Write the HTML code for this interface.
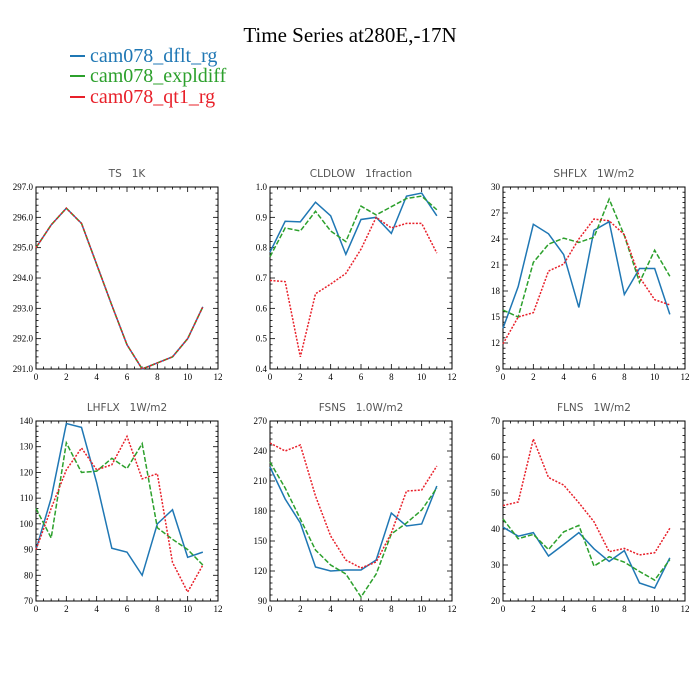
<!DOCTYPE html>
<html><head><meta charset="utf-8"><style>
body{margin:0;background:#fff;width:700px;height:700px;overflow:hidden}
svg{display:block}
text{white-space:pre}
</style></head><body>
<svg id="chart" width="700" height="700" xmlns="http://www.w3.org/2000/svg" xml:space="preserve">
<text x="350" y="42" text-anchor="middle" font-family="Liberation Serif, serif" font-size="21">Time Series at280E,-17N</text>
<g font-family="Liberation Serif, serif" font-size="20">
<line x1="70" y1="56" x2="85" y2="56" stroke="#1f77b4" stroke-width="2"/>
<text x="90" y="62" fill="#1f77b4">cam078_dflt_rg</text>
<line x1="70" y1="76" x2="85" y2="76" stroke="#2ca02c" stroke-width="2"/>
<text x="90" y="82" fill="#2ca02c">cam078_expldiff</text>
<line x1="70" y1="97" x2="85" y2="97" stroke="#e8202a" stroke-width="2"/>
<text x="90" y="103" fill="#e8202a">cam078_qt1_rg</text>
</g>
</svg>
<script>
const months=[0,1,2,3,4,5,6,7,8,9,10,11];
const xTicks=[0,2,4,6,8,10,12];
const tsBlue=[295.0,295.75,296.3,295.8,294.45,293.1,291.8,291.0,291.2,291.4,292.0,293.05];
const tsGreen=[295.0,295.75,296.3,295.8,294.45,293.1,291.8,291.0,291.2,291.4,292.0,293.05];
const tsRed=[295.0,295.75,296.3,295.8,294.45,293.1,291.8,291.0,291.2,291.4,292.0,293.05];
const tsTicks=[291,292,293,294,295,296,297];
const cldBlue=[0.785,0.887,0.885,0.95,0.905,0.778,0.893,0.9,0.847,0.97,0.98,0.905];
const cldGreen=[0.77,0.865,0.855,0.92,0.855,0.82,0.937,0.908,0.935,0.962,0.97,0.925];
const cldRed=[0.692,0.688,0.44,0.648,0.68,0.715,0.795,0.9,0.865,0.88,0.88,0.782];
const cldTicks=[0.4,0.5,0.6,0.7,0.8,0.9,1.0];
const shBlue=[13.7,18.5,25.7,24.6,22.2,16.1,25,26,17.6,20.6,20.6,15.3];
const shGreen=[15.8,15,21.3,23.4,24.1,23.6,24.2,28.6,24.4,19,22.7,19.7];
const shRed=[11.9,15,15.5,20.3,21.1,24,26.3,26.1,24.5,19.6,17,16.4];
const shTicks=[9,12,15,18,21,24,27,30];
const lhBlue=[90,110,139,137.5,116,90.5,89,80,100,105.5,87,89];
const lhGreen=[106,94.5,131.5,120,120.5,125.5,121.5,131.2,98.5,94,90,84];
const lhRed=[90,106,121,129.5,121,123,134,117.5,119.5,85,73.5,84];
const lhTicks=[70,80,90,100,110,120,130,140];
const fsBlue=[224,192,168,124,120,121,121,131,178,165,167,205];
const fsGreen=[229,203,172,141,126,117,94,117,157,168,181,203];
const fsRed=[248,240,246,195,155,131,123,129,158,200,201,225];
const fsTicks=[90,120,150,180,210,240,270];
const flBlue=[40.5,38,39,32.5,35.7,39,34.5,31,34,25,23.6,32];
const flGreen=[42.8,37.3,38.5,34.3,39.2,41,29.7,32.3,30.8,28.2,25.8,31.5];
const flRed=[46.5,47.5,65,54.3,52.2,47.3,42,33.7,34.6,32.8,33.4,40.2];
const flTicks=[20,30,40,50,60,70];

const NS="http://www.w3.org/2000/svg";
const svg=document.getElementById('chart');
function mk(tag,attrs,parent){const e=document.createElementNS(NS,tag);for(const k in attrs)e.setAttribute(k,attrs[k]);(parent||svg).appendChild(e);return e;}

function panel(name,title,L,T,W,H,ticks,dec,blue,green,red){
  const g=mk('g',{});
  
  
  const ymin=ticks[0],ymax=ticks[ticks.length-1];
  const sx=v=>L+v/12*W, sy=v=>T+H-(v-ymin)/(ymax-ymin)*H;
  const t=mk('text',{x:L+W/2,y:T-10,'text-anchor':'middle','font-family':'DejaVu Sans, sans-serif','font-size':'10.5',fill:'#555'},g);
  t.textContent=title;
  
  
  const fr=mk('rect',{x:L,y:T,width:W,height:H,fill:'none',stroke:'#000','stroke-width':1},g);
  
  
  for(let v=0;v<=12;v+=0.5){const x=sx(v);const major=v%2===0;const len=major?5:2.5;
    mk('line',{x1:x,y1:T+H,x2:x,y2:T+H-len,stroke:'#000','stroke-width':0.8},g);
    mk('line',{x1:x,y1:T,x2:x,y2:T+len,stroke:'#000','stroke-width':0.8},g);}
  xTicks.forEach(v=>{const tx=mk('text',{x:sx(v),y:T+H+11,'text-anchor':'middle','font-family':'Liberation Serif, serif','font-size':'9'},g);tx.textContent=v;
    
    });
  const step=ticks[1]-ticks[0];
  for(let i=0;i<ticks.length;i++){const y=sy(ticks[i]);
    mk('line',{x1:L,y1:y,x2:L+5,y2:y,stroke:'#000','stroke-width':0.8},g);
    mk('line',{x1:L+W,y1:y,x2:L+W-5,y2:y,stroke:'#000','stroke-width':0.8},g);
    if(i<ticks.length-1){for(let k=1;k<5;k++){const yy=sy(ticks[i]+step*k/5);
      mk('line',{x1:L,y1:yy,x2:L+2.5,y2:yy,stroke:'#000','stroke-width':0.8},g);
      mk('line',{x1:L+W,y1:yy,x2:L+W-2.5,y2:yy,stroke:'#000','stroke-width':0.8},g);}}
    const ty=mk('text',{x:L-3,y:y+3,'text-anchor':'end','font-family':'Liberation Serif, serif','font-size':'9'},g);
    ty.textContent=ticks[i].toFixed(dec);
    
    }
  const series=[[blue,'#1f77b4','','blue'],[green,'#2ca02c','5,2','green'],[red,'#e8202a','2,1.5','red']];
  series.forEach(([d,c,dash,n])=>{
    const p=mk('polyline',{points:months.map((m,i)=>sx(m)+','+sy(d[i])).join(' '),fill:'none',stroke:c,'stroke-width':1.5,'stroke-dasharray':dash},g);
    
    });
}
panel('ts','TS   1K',36,187,182,182,tsTicks,1,tsBlue,tsGreen,tsRed);
panel('cldlow','CLDLOW   1fraction',270,187,182,182,cldTicks,1,cldBlue,cldGreen,cldRed);
panel('shflx','SHFLX   1W/m2',503,187,182,182,shTicks,0,shBlue,shGreen,shRed);
panel('lhflx','LHFLX   1W/m2',36,421,182,180,lhTicks,0,lhBlue,lhGreen,lhRed);
panel('fsns','FSNS   1.0W/m2',270,421,182,180,fsTicks,0,fsBlue,fsGreen,fsRed);
panel('flns','FLNS   1W/m2',503,421,182,180,flTicks,0,flBlue,flGreen,flRed);
</script>
</body></html>
